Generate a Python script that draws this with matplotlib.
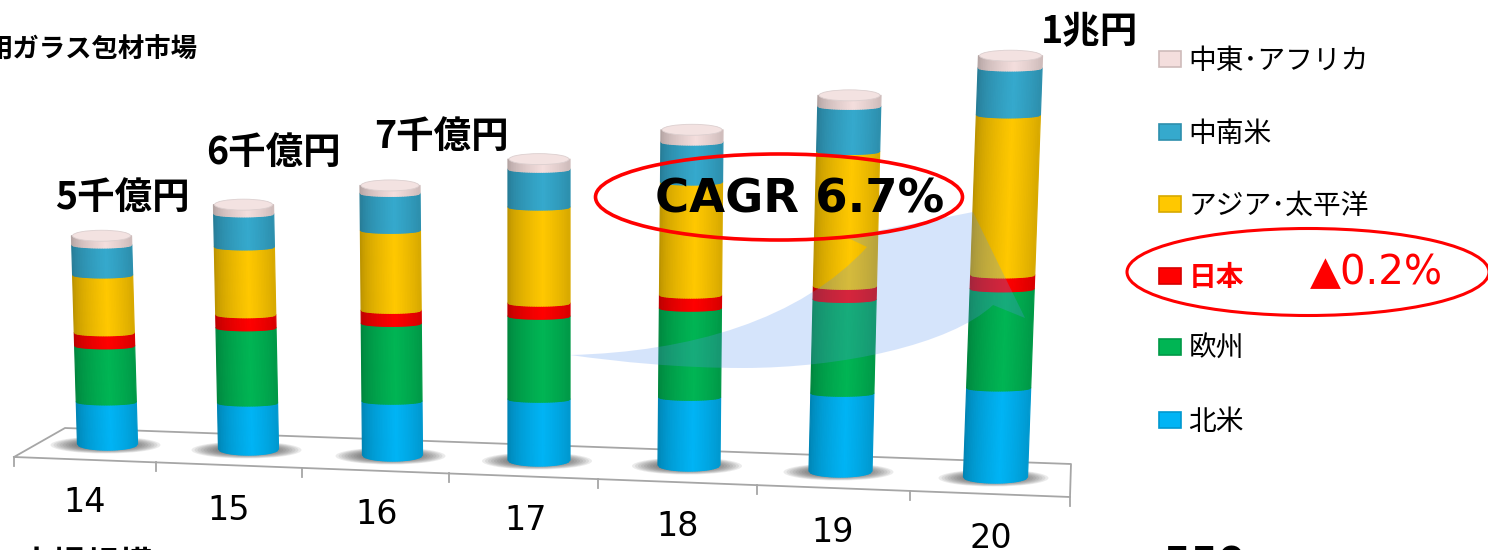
import matplotlib
matplotlib.use("Agg")
import matplotlib.pyplot as plt
import numpy as np
from matplotlib.collections import PolyCollection
from matplotlib.patches import Ellipse, Patch, PathPatch
from matplotlib.path import Path

plt.rcParams["font.family"] = ["Noto Sans CJK JP", "DejaVu Sans"]

# market size by region, 100M yen
years = ["14", "15", "16", "17", "18", "19", "20"]
kita_bei = [970, 1060, 1240, 1400, 1560, 1790, 2050]
oshu = [1290, 1730, 1790, 1910, 2050, 2160, 2280]
nihon = [300, 300, 300, 300, 300, 300, 320]
asia = [1330, 1560, 1840, 2210, 2600, 3100, 3680]
chunanbei = [690, 760, 850, 870, 920, 1040, 1080]
chuto = [210, 210, 180, 230, 280, 250, 280]
series_names = ["北米", "欧州", "日本", "アジア･太平洋", "中南米", "中東･アフリカ"]
total_labels = ["5千億円", "6千億円", "7千億円", "", "", "", "1兆円"]

colors = ["#00b4f5", "#00b554", "#ff0000", "#ffc800", "#35a9cd", "#f4dedd"]

# faked 3D layout, in pixels
PX_PER_OKU = 1 / 23
base_x = [107.5, 248.5, 392.5, 539, 689, 840.5, 995.5]
top_shift = [-6, -5, -2.5, 0, 3, 9, 15]
half_w = [30, 30, 30, 31, 31, 31.5, 32]
base_y = [444, 449, 455, 460, 465, 471, 477]
year_xy = [(85, 503), (229, 510), (377, 514), (526, 520), (678, 527), (833, 533), (991, 538)]
label_xy = [(122, 197), (273, 152), (441, 136), None, None, None, (1090, 32)]
tick_x = [14, 156, 302, 449, 598, 757, 910, 1070]


def shade(color, u):
    # darker towards both edges of the cylinder
    f = 0.70 + 0.30 * np.clip(1 - abs(u - 0.15) / 1.15, 0, 1) ** 0.55
    return tuple(np.array(matplotlib.colors.to_rgb(color)) * f)


def front_y(x):
    return 457 + (x - tick_x[0]) * 40 / 1056


fig = plt.figure(figsize=(14.88, 5.5), dpi=100)
ax = fig.add_axes([0, 0, 1, 1])
ax.set_xlim(0, 1488)
ax.set_ylim(550, 0)
ax.axis("off")

# floor
floor = "#a6a6a6"
ax.plot([14, 1070, 1071, 65, 14], [457, 497, 464, 428, 457], color=floor, lw=1.3, zorder=1)
for x in tick_x:
    ax.plot([x, x], [front_y(x), front_y(x) + 9], color=floor, lw=1.3, zorder=1)

for i, yr in enumerate(years):
    ax.text(*year_xy[i], yr, fontsize=24, ha="center", va="center", family="DejaVu Sans", color="black")

stack = np.array([kita_bei, oshu, nihon, asia, chunanbei, chuto], dtype=float)
us = np.linspace(-1, 1, 37)

for i in range(len(years)):
    # shadow on the floor
    cy = base_y[i] + 1
    for k in range(9):
        ax.add_patch(Ellipse((base_x[i] - 2, cy), 110 - k * 6, 17 - k, color="#444444", alpha=0.10, lw=0, zorder=2))

    heights = stack[:, i] * PX_PER_OKU
    edges = np.concatenate([[0], np.cumsum(heights)])
    total = edges[-1]
    polys, facecolors = [], []
    for s in range(len(heights)):
        sag0 = 6 if s == 0 else 3
        sag1 = 3
        for u0, u1 in zip(us[:-1], us[1:]):
            um = (u0 + u1) / 2
            corner = []
            for u, h, sag in [(u0, edges[s], sag0), (u1, edges[s], sag0), (u1, edges[s + 1], sag1), (u0, edges[s + 1], sag1)]:
                x = base_x[i] + top_shift[i] * h / total + u * half_w[i]
                y = base_y[i] - h + sag * np.sqrt(max(1 - u * u, 0))
                corner.append((x, y))
            polys.append(corner)
            facecolors.append(shade(colors[s], um))
    ax.add_collection(PolyCollection(polys, facecolors=facecolors, edgecolors="face", linewidths=0.9, zorder=3))
    # top face
    ax.add_patch(Ellipse((base_x[i] + top_shift[i], base_y[i] - total), 2 * half_w[i] - 2, 11,
                         facecolor="#f3e2e1", edgecolor="#dccfcf", lw=0.6, zorder=4))

    if label_xy[i]:
        ax.text(*label_xy[i], total_labels[i], fontsize=27, fontweight="bold", ha="center", va="center", zorder=7)

# growth arrow
arrow = Path(
    [(570, 355), (690, 352), (800, 320), (867, 247), (846, 237), (973, 212), (1025, 318), (993, 305),
     (950, 345), (840, 368), (743, 368), (680, 368), (620, 362), (570, 355)],
    [Path.MOVETO, Path.CURVE4, Path.CURVE4, Path.CURVE4, Path.LINETO, Path.LINETO, Path.LINETO, Path.LINETO,
     Path.CURVE4, Path.CURVE4, Path.CURVE4, Path.CURVE4, Path.CURVE4, Path.CURVE4],
)
ax.add_patch(PathPatch(arrow, facecolor="#5b94f0", alpha=0.25, lw=0, zorder=5))

ax.text(800, 200, "CAGR 6.7%", fontsize=33.5, fontweight="bold", ha="center", va="center", family="DejaVu Sans", zorder=7)
ax.add_patch(Ellipse((779, 197), 367, 86, fill=False, edgecolor="#ff0000", lw=2.6, zorder=6))
ax.add_patch(Ellipse((1308, 272), 362, 87, fill=False, edgecolor="#ff0000", lw=2.2, zorder=6, clip_on=False))
ax.text(1376, 273, "▲0.2%", fontsize=29, color="#ff0000", ha="center", va="center", family="DejaVu Sans", zorder=7)

ax.text(197, 50, "用ガラス包材市場", fontsize=19, fontweight="bold", ha="right", va="center")
ax.text(20, 549, "市場規模", fontsize=24, fontweight="bold", ha="left", va="top")
ax.text(1164, 546, "550", fontsize=28, fontweight="bold", ha="left", va="top", family="DejaVu Sans")

# legend, top entry is the top of the stack
handles = [Patch(facecolor=c, edgecolor=shade(c, 1), lw=1.2) for c in colors][::-1]
leg = ax.legend(handles, series_names[::-1], loc="upper left", bbox_to_anchor=(1159 / 1488, 1 - 46 / 550),
                frameon=False, prop={"size": 20}, handlelength=0.78, handleheight=0.5, handletextpad=0.28,
                labelspacing=1.53, borderpad=0, borderaxespad=0)
leg.set_zorder(7)
jp_text = leg.get_texts()[3]
jp_text.set_color("#ff0000")
jp_text.set_fontweight("bold")

fig.savefig("out.png", dpi=100)
